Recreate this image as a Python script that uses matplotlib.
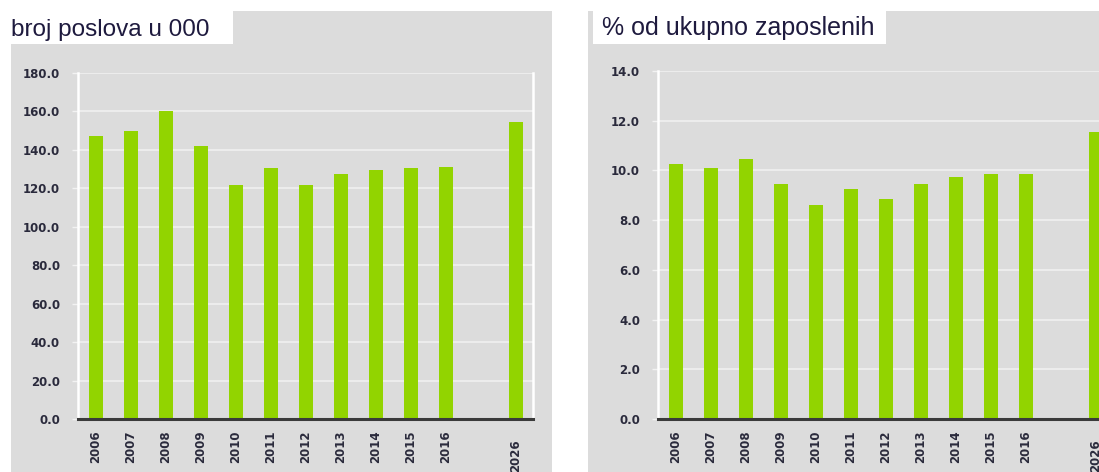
import matplotlib.pyplot as plt
import matplotlib.transforms as mtransforms
from matplotlib.patches import Rectangle
import numpy as np

years = ["2006", "2007", "2008", "2009", "2010", "2011", "2012", "2013",
         "2014", "2015", "2016", "", "2026"]
jobs_000 = [147.0, 150.0, 160.3, 142.0, 121.6, 130.4, 121.5, 127.5,
            129.6, 130.4, 131.2, None, 154.7]
share_pct = [10.26, 10.1, 10.46, 9.45, 8.61, 9.26, 8.85, 9.44,
             9.73, 9.85, 9.85, None, 11.53]

left_title = "broj poslova u 000"
right_title = "% od ukupno zaposlenih"

W, H = 1099, 472
BG = "#dcdcdc"
GREEN = "#92d400"
TXT = "#2a2a3c"
TITLE_C = "#1e1a3e"

fig = plt.figure(figsize=(W / 100, H / 100), dpi=100)


def box(x0, y0, x1, y1):
    # pixel box (top-left origin) -> figure fraction [l, b, w, h]
    return [x0 / W, 1 - y1 / H, (x1 - x0) / W, (y1 - y0) / H]


def rect(x0, y0, x1, y1, color):
    l, b, w, h = box(x0, y0, x1, y1)
    fig.add_artist(Rectangle((l, b), w, h, transform=fig.transFigure,
                             facecolor=color, edgecolor="none", zorder=0))


# panel backgrounds and white title tabs
rect(11, 11, 552, H, BG)
rect(588, 11, W, H, BG)
rect(11, 11, 233, 44, "white")
rect(593, 11, 886, 44, "white")

fig.text(11 / W, 1 - 36 / H, left_title, fontsize=17.5, color=TITLE_C,
         family="Liberation Sans", va="baseline", ha="left")
fig.text(602 / W, 1 - 35 / H, right_title, fontsize=18, color=TITLE_C,
         family="Liberation Sans", va="baseline", ha="left")


def panel(pos, values, ymax, step):
    ax = fig.add_axes(box(*pos))
    ax.set_facecolor(BG)
    vals = np.array([np.nan if v is None else v for v in values], dtype=float)
    x = np.arange(len(years))
    ax.bar(x, vals, width=0.4, color=GREEN, zorder=3)
    ax.set_xlim(-0.5, len(years) - 0.5)
    ax.set_ylim(0, ymax)
    ticks = np.arange(0, ymax + step / 2, step)
    ax.set_yticks(ticks)
    ax.set_yticklabels([f"{t:.1f}" for t in ticks])
    ax.set_xticks(x)
    ax.set_xticklabels(years, rotation=90, va="top", ha="center")
    ax.grid(axis="y", color="#f2f2f2", linewidth=1.1, zorder=1)
    ax.set_axisbelow(True)
    for side in ("left", "right", "top"):
        ax.spines[side].set_color("white")
        ax.spines[side].set_linewidth(1.8)
    ax.spines["top"].set_visible(False)
    ax.spines["bottom"].set_color("#3a3a3a")
    ax.spines["bottom"].set_linewidth(2.2)
    ax.spines["bottom"].set_zorder(5)
    ax.tick_params(axis="y", length=4, width=1.0, color="#f2f2f2", pad=9,
                   labelsize=8.5, labelcolor=TXT)
    ax.tick_params(axis="x", length=0, pad=8, labelsize=8.5, labelcolor=TXT)
    for lab in ax.get_xticklabels() + ax.get_yticklabels():
        lab.set_fontweight("bold")
        lab.set_family("DejaVu Sans")
    last = ax.get_xticklabels()[-1]
    last.set_transform(last.get_transform() +
                       mtransforms.ScaledTranslation(0, -0.09, fig.dpi_scale_trans))
    return ax


panel((78, 73, 533, 419), jobs_000, 180, 20)
panel((658, 71, 1113, 419), share_pct, 14, 2)

fig.savefig("out.png", dpi=100)
